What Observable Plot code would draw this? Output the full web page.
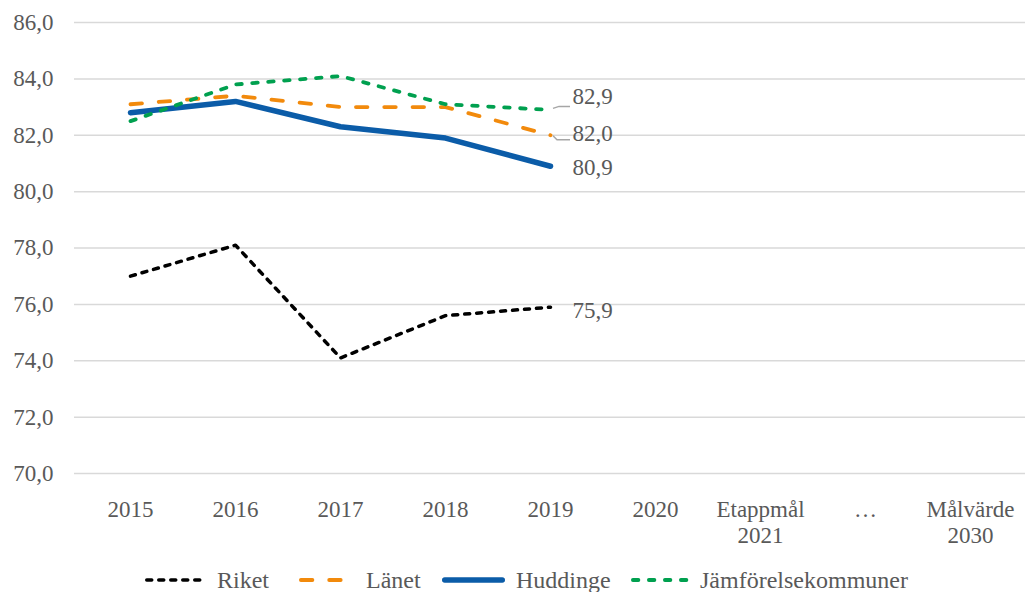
<!DOCTYPE html>
<html>
<head>
<meta charset="utf-8">
<script src="https://cdn.jsdelivr.net/npm/d3@7"></script>
<script src="https://cdn.jsdelivr.net/npm/@observablehq/plot@0.6"></script>
<style>
  body { margin: 0; background: white; }
  #legend { position: relative; height: 32px; font-family: "Liberation Serif", "Times New Roman", serif; font-size: 24px; color: #595959; }
  #legend .item { position: absolute; top: 4px; display: flex; align-items: center; height: 32px; }
  #legend svg { margin-right: 10px; }
</style>
</head>
<body>
<div id="chart"></div>
<div id="legend"></div>
<script>
const categories = ["2015", "2016", "2017", "2018", "2019", "2020", "Etappmål\n2021", "…", "Målvärde\n2030"];
const years = ["2015", "2016", "2017", "2018", "2019"];
const riket = [77.0, 78.1, 74.1, 75.6, 75.9];
const lanet = [83.1, 83.4, 83.0, 83.0, 82.0];
const huddinge = [82.8, 83.2, 82.3, 81.9, 80.9];
const jamfor = [82.5, 83.8, 84.1, 83.1, 82.9];
const yTicks = [70, 72, 74, 76, 78, 80, 82, 84, 86];
const seriesNames = ["Riket", "Länet", "Huddinge", "Jämförelsekommuner"];

const fmt = v => d3.format(".1f")(v).replace(".", ",");
const rows = arr => years.map((y, i) => ({year: y, value: arr[i]}));

const styles = {
  "Riket": {stroke: "#000000", strokeWidth: 3.5, strokeDasharray: "5,7", strokeLinecap: "round"},
  "Länet": {stroke: "#F28A0C", strokeWidth: 3.8, strokeDasharray: "11.5,16.8", strokeLinecap: "round"},
  "Huddinge": {stroke: "#0B5CA8", strokeWidth: 5.5, strokeLinecap: "round"},
  "Jämförelsekommuner": {stroke: "#00A04F", strokeWidth: 3.8, strokeDasharray: "5.5,10.5", strokeLinecap: "round"}
};
const seriesData = {"Riket": riket, "Länet": lanet, "Huddinge": huddinge, "Jämförelsekommuner": jamfor};

const last = years[years.length - 1];
const leader = (value, pts) => (index, scales) => {
  const x = scales.x(last), y = scales.y(value);
  const d = "M" + pts.map(([dx, dy]) => `${x + dx},${y + dy}`).join("L");
  return d3.create("svg:path").attr("d", d).attr("fill", "none")
    .attr("stroke", "#A6A6A6").attr("stroke-width", 1.5).node();
};

const labelMark = (arr, dy) => Plot.text([arr[arr.length - 1]], {
  x: () => last, y: d => d, text: d => fmt(d), dx: 22, dy, textAnchor: "start",
  fill: "#595959", fontSize: 23
});

const chart = Plot.plot({
  width: 1025,
  height: 560,
  marginLeft: 74,
  marginRight: 0,
  marginTop: 22,
  marginBottom: 87,
  style: {fontFamily: "'Liberation Serif', 'Times New Roman', serif", fontSize: "23px", color: "#595959", background: "white"},
  x: {type: "point", domain: categories, padding: 0.5},
  y: {domain: [70, 86]},
  marks: [
    Plot.gridY(yTicks, {stroke: "#D9D9D9", strokeOpacity: 1, strokeWidth: 1.5}),
    Plot.axisY(yTicks, {tickSize: 0, tickPadding: 21, tickFormat: fmt, fontSize: 23, fill: "#595959", label: null}),
    Plot.axisX({tickSize: 0, tickPadding: 25, fontSize: 23, fill: "#595959", label: null, lineHeight: 1.12}),
    ...seriesNames.map(n => Plot.line(rows(seriesData[n]), {x: "year", y: "value", ...styles[n]})),
    leader(jamfor[4], [[3, -1], [9, -3], [20, -3]]),
    leader(lanet[4], [[3, 1], [7, 5], [20, 5]]),
    labelMark(jamfor, -13),
    labelMark(lanet, -2),
    labelMark(huddinge, 1),
    labelMark(riket, 3)
  ]
});
document.getElementById("chart").appendChild(chart);

const legendPos = {"Riket": [144, 63], "Länet": [298, 58], "Huddinge": [441, 65], "Jämförelsekommuner": [630, 60]};
const legend = document.getElementById("legend");
for (const n of seriesNames) {
  const s = styles[n];
  const [left, w] = legendPos[n];
  const item = document.createElement("div");
  item.className = "item";
  item.style.left = left + "px";
  const sw = d3.create("svg").attr("width", w).attr("height", 12);
  sw.append("line").attr("x1", s.strokeWidth / 2 + 1).attr("x2", w - s.strokeWidth / 2 - 1).attr("y1", 6).attr("y2", 6)
    .attr("stroke", s.stroke).attr("stroke-width", s.strokeWidth)
    .attr("stroke-dasharray", s.strokeDasharray || null).attr("stroke-linecap", s.strokeLinecap);
  item.appendChild(sw.node());
  const t = document.createElement("span");
  t.textContent = n;
  item.appendChild(t);
  legend.appendChild(item);
}
</script>
</body>
</html>
